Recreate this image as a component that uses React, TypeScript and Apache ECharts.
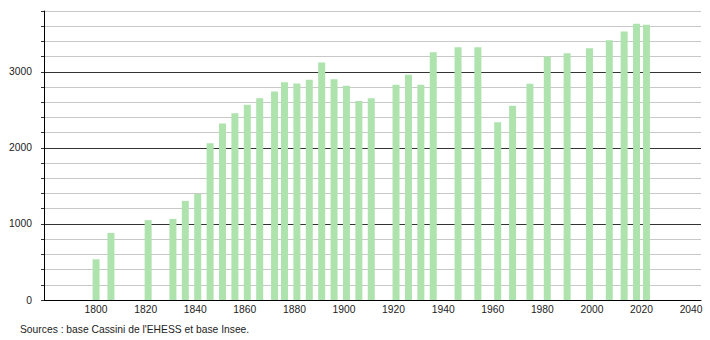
import React, { useEffect, useRef } from "react";
import * as echarts from "echarts";

const years = [1800, 1806, 1821, 1831, 1836, 1841, 1846, 1851, 1856, 1861, 1866, 1872, 1876, 1881, 1886, 1891, 1896, 1901, 1906, 1911, 1921, 1926, 1931, 1936, 1946, 1954, 1962, 1968, 1975, 1982, 1990, 1999, 2007, 2013, 2018, 2022];
const population = [535, 882, 1050, 1066, 1303, 1395, 2061, 2320, 2456, 2566, 2654, 2741, 2864, 2846, 2895, 3123, 2904, 2816, 2618, 2654, 2829, 2961, 2829, 3259, 3325, 3325, 2338, 2553, 2842, 3202, 3246, 3311, 3417, 3530, 3632, 3618];
const xTickLabels = [1800, 1820, 1840, 1860, 1880, 1900, 1920, 1940, 1960, 1980, 2000, 2020, 2040];
const sourceText = "Sources : base Cassini de l'EHESS et base Insee.";

const FONT = "'Liberation Sans', Arial, sans-serif";

export default function App() {
  const ref = useRef<HTMLDivElement>(null);
  useEffect(() => {
    if (!ref.current) return;
    const chart = echarts.init(ref.current, null, { renderer: "svg" });
    chart.setOption({
      animation: false,
      backgroundColor: "#ffffff",
      grid: { left: 44, right: 9, top: 11, bottom: 40, containLabel: false, outerBoundsMode: "none" },
      xAxis: {
        type: "value",
        min: 1779,
        max: 2044,
        axisLine: { show: true, lineStyle: { color: "#000", width: 1 } },
        axisTick: { show: false },
        splitLine: { show: false },
        axisLabel: {
          customValues: xTickLabels,
          color: "#222",
          fontFamily: FONT,
          fontSize: 10.3,
          margin: 4,
          formatter: (v: number) => String(v),
        },
      },
      yAxis: {
        type: "value",
        min: 0,
        max: 3800,
        interval: 200,
        axisLine: { show: true, lineStyle: { color: "#000", width: 1 } },
        axisTick: { show: true, length: 3, lineStyle: { color: "#333" } },
        splitLine: {
          show: true,
          lineStyle: { color: ["#333", "#c8c8c8", "#c8c8c8", "#c8c8c8", "#c8c8c8"], width: 1 },
        },
        axisLabel: {
          color: "#222",
          fontFamily: FONT,
          fontSize: 10.3,
          margin: 12,
          formatter: (v: number) => (v % 1000 === 0 ? String(v) : ""),
        },
      },
      series: [
        {
          type: "bar",
          data: years.map((y, i) => [y, population[i]]),
          barWidth: 7,
          itemStyle: { color: "#aee3ae" },
        },
      ],
      graphic: [
        {
          type: "text",
          left: 20,
          top: 324,
          style: { text: sourceText, fill: "#222", font: `10.3px ${FONT}` },
        },
      ],
    });
    return () => chart.dispose();
  }, []);
  return (
    <div
      ref={ref}
      style={{ position: "fixed", left: 0, top: 0, width: 710, height: 340, background: "#fff" }}
    />
  );
}
